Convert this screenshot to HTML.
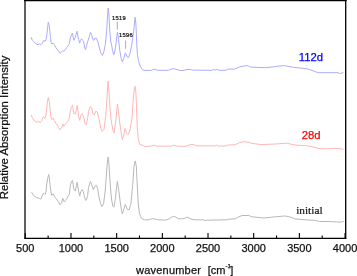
<!DOCTYPE html>
<html><head><meta charset="utf-8"><style>
html,body{margin:0;padding:0;background:#fff;}
body{width:357px;height:276px;overflow:hidden;}
svg{display:block;}
text{font-family:"Liberation Sans",Arial,sans-serif;}
</style></head><body>
<svg width="357" height="276" viewBox="0 0 357 276">
<rect x="0" y="0" width="357" height="276" fill="#fff"/>
<polyline fill="none" stroke="#acacff" stroke-width="1.0" stroke-linejoin="round" points="31.2,37.2 32.3,40.4 34.5,42.6 36.7,44.1 38.1,44.8 39.3,43.8 40.8,44.8 42.5,43.0 43.7,40.4 45.1,41.2 46.1,39.7 46.8,35.4 47.6,27.4 48.3,22.3 49.0,24.5 49.7,30.3 50.5,37.5 51.2,42.6 51.7,43.9 53.2,43.2 54.3,44.6 55.8,47.5 58.0,50.4 60.1,53.3 61.6,51.9 62.8,50.7 63.8,51.2 65.2,49.7 66.7,47.5 68.1,45.8 69.3,43.9 70.3,38.1 71.4,35.2 72.5,33.0 73.2,37.4 73.9,40.3 74.9,38.1 76.1,34.5 77.0,31.3 77.8,35.9 78.7,39.6 79.7,43.2 80.4,40.3 81.6,38.8 82.6,40.3 83.6,41.7 84.8,48.3 85.5,49.7 86.4,46.1 87.9,41.0 89.3,36.7 90.5,32.3 91.5,34.5 93.0,39.6 94.0,40.3 95.1,38.1 96.3,38.1 97.8,41.7 99.5,48.3 100.9,53.3 102.4,55.5 103.8,51.9 105.3,44.6 106.5,33.0 107.4,18.0 108.1,8.0 108.9,14.0 109.7,30.0 110.8,42.0 111.6,45.0 112.5,50.4 113.7,54.8 114.7,51.9 115.7,46.1 116.9,35.9 117.5,32.0 118.6,39.8 119.9,51.2 121.2,58.5 122.3,61.8 124.0,57.7 125.3,52.8 127.2,56.9 128.5,57.5 130.3,52.4 132.1,42.6 133.6,31.7 135.1,17.2 135.9,24.0 136.4,35.0 136.9,47.0 137.6,55.5 138.7,61.5 140.1,66.0 142.3,69.6 144.0,70.4 151.4,70.4 152.8,69.4 155.6,69.4 157.3,70.3 168.3,70.3 170.8,69.3 173.6,68.6 175.8,69.4 178.3,69.8 180.0,70.6 184.2,70.4 185.9,69.6 190.1,69.4 192.6,70.1 211.8,70.3 213.5,69.4 215.2,70.3 216.8,69.1 218.5,70.3 226.1,70.3 227.8,69.1 234.5,69.1 237.0,68.1 239.5,66.9 242.1,66.4 245.4,65.7 247.9,65.7 249.6,66.6 252.1,67.4 255.0,67.2 260.0,67.6 266.8,67.6 273.5,66.8 278.6,66.1 284.5,65.6 288.7,66.5 293.7,67.3 301.2,68.1 307.3,68.9 312.0,70.4 318.1,72.7 338.1,72.7 339.7,73.5 343.5,72.7"/>
<polyline fill="none" stroke="#ffb6b6" stroke-width="1.0" stroke-linejoin="round" points="31.2,114.8 32.3,117.7 33.8,120.2 35.2,121.0 36.4,122.5 37.4,121.3 38.9,121.8 40.3,122.5 41.8,120.6 42.5,117.7 43.7,116.7 44.7,118.4 45.7,117.0 46.6,109.7 47.3,102.5 48.3,97.4 49.4,102.5 50.2,109.7 50.9,117.0 51.7,119.6 53.2,118.2 54.3,120.4 55.8,123.3 58.0,126.2 60.1,129.8 61.6,127.6 62.8,124.0 63.8,126.2 65.2,124.7 66.7,122.5 68.1,121.1 69.3,118.2 70.3,110.9 71.4,107.3 72.5,105.1 73.2,109.5 73.9,113.8 75.4,113.8 76.4,109.5 77.1,105.4 77.8,109.5 78.7,116.7 79.7,120.4 80.7,115.3 81.9,113.8 83.0,115.3 84.1,118.9 85.1,124.0 85.9,125.1 87.4,120.4 88.6,111.2 90.4,106.4 91.9,108.5 93.1,114.0 94.4,114.9 95.9,111.2 97.3,112.1 99.1,119.4 100.9,128.4 102.2,131.2 104.0,129.3 105.8,115.8 106.6,104.0 107.4,91.0 108.1,81.2 108.9,90.0 109.7,104.0 110.8,117.0 111.8,124.0 113.1,131.2 114.0,133.0 115.4,123.9 116.7,112.1 117.5,104.0 118.5,112.1 119.8,123.0 121.2,133.0 122.3,139.6 123.5,136.0 125.0,128.5 126.5,133.0 128.2,134.8 130.2,129.5 132.0,118.0 133.2,100.3 134.3,89.0 135.1,86.3 135.9,92.0 136.6,110.0 137.3,128.0 138.3,139.0 139.6,144.3 142.9,145.5 144.7,146.4 148.1,146.4 151.4,145.9 154.0,145.1 156.5,146.1 171.6,146.1 173.3,145.1 176.7,146.1 185.1,146.4 188.4,145.1 193.5,144.4 196.8,145.9 215.2,145.9 216.5,145.1 218.5,146.1 225.3,146.1 227.8,145.1 235.3,144.7 239.5,142.6 243.7,141.7 247.9,142.1 252.1,143.4 261.2,144.6 275.2,144.0 286.4,143.2 296.2,145.2 304.2,145.5 312.0,146.6 318.1,148.4 325.8,148.9 335.0,148.4 343.5,149.2"/>
<polyline fill="none" stroke="#b8b8b8" stroke-width="1.0" stroke-linejoin="round" points="31.6,192.2 33.1,194.8 34.5,196.2 36.4,197.4 37.9,198.0 39.3,198.4 40.8,199.1 41.8,197.0 42.8,194.1 43.9,193.3 45.1,194.5 46.1,191.2 46.8,183.2 47.6,178.8 48.6,174.5 49.4,178.1 50.0,184.6 50.9,191.2 51.7,195.4 53.2,193.9 54.3,196.1 55.8,198.3 58.0,201.2 60.1,204.8 61.6,202.6 62.8,198.3 64.3,202.0 65.5,200.5 66.7,198.8 68.1,196.1 69.3,194.6 70.3,185.9 71.4,181.6 72.5,180.4 73.2,184.5 73.9,189.6 75.4,191.0 76.4,185.9 77.1,182.3 77.8,185.9 78.7,191.7 79.7,196.1 80.7,191.7 82.2,189.6 83.3,191.7 84.5,196.8 85.5,200.4 86.5,199.7 87.7,195.4 88.5,187.6 90.4,181.5 92.0,185.4 93.3,189.8 94.8,186.5 96.3,185.4 97.6,188.7 99.1,197.4 100.7,203.9 102.0,206.7 103.5,203.9 105.0,193.0 106.4,175.0 107.3,163.0 108.1,157.0 108.9,163.0 109.8,178.0 110.9,193.0 111.7,200.0 112.8,206.1 113.9,207.2 115.4,198.5 116.5,187.6 117.4,181.4 118.7,189.8 120.2,201.7 121.5,210.4 122.3,213.9 124.5,207.1 125.3,204.3 127.2,209.2 129.1,209.8 130.8,204.3 132.7,185.3 133.3,176.7 133.9,167.0 135.2,161.0 136.3,165.9 136.8,176.7 137.5,190.0 138.2,203.0 139.5,213.9 140.8,216.6 141.4,218.4 144.7,219.8 148.9,219.8 151.4,218.8 154.8,218.8 157.3,219.8 165.7,220.1 169.1,218.8 171.6,217.1 173.6,216.4 175.8,217.1 178.3,218.8 182.5,218.8 185.1,218.1 187.1,217.1 189.3,218.1 191.8,219.3 195.1,219.8 203.4,219.8 205.1,220.7 206.8,220.2 226.9,219.8 228.6,219.2 235.3,218.8 238.7,216.8 242.1,215.5 248.8,215.5 252.1,216.8 255.0,217.1 264.0,218.0 275.2,216.8 285.0,216.0 290.0,216.9 295.6,219.0 304.0,219.7 315.2,220.4 319.4,221.5 329.2,221.5 340.0,222.1 343.8,221.6"/>
<line x1="117.3" y1="21.8" x2="117.3" y2="29.6" stroke="#999" stroke-width="0.8"/>
<line x1="125.6" y1="40.6" x2="125.6" y2="48.8" stroke="#999" stroke-width="0.8"/>
<text x="111.9" y="19.8" font-size="5.8" fill="#111" stroke="#111" stroke-width="0.22" letter-spacing="0.3">1519</text>
<text x="119.0" y="36.6" font-size="5.8" fill="#111" stroke="#111" stroke-width="0.22" letter-spacing="0.3">1596</text>
<g stroke="#000" stroke-width="1.1"><line x1="25.30" y1="238.35" x2="25.30" y2="232.95"/><line x1="70.98" y1="238.35" x2="70.98" y2="232.95"/><line x1="116.66" y1="238.35" x2="116.66" y2="232.95"/><line x1="162.34" y1="238.35" x2="162.34" y2="232.95"/><line x1="208.01" y1="238.35" x2="208.01" y2="232.95"/><line x1="253.69" y1="238.35" x2="253.69" y2="232.95"/><line x1="299.37" y1="238.35" x2="299.37" y2="232.95"/><line x1="345.05" y1="238.35" x2="345.05" y2="232.95"/><line x1="48.14" y1="238.35" x2="48.14" y2="235.45"/><line x1="93.82" y1="238.35" x2="93.82" y2="235.45"/><line x1="139.50" y1="238.35" x2="139.50" y2="235.45"/><line x1="185.17" y1="238.35" x2="185.17" y2="235.45"/><line x1="230.85" y1="238.35" x2="230.85" y2="235.45"/><line x1="276.53" y1="238.35" x2="276.53" y2="235.45"/><line x1="322.21" y1="238.35" x2="322.21" y2="235.45"/></g>
<g stroke="#000">
<line x1="24.0" y1="0.3" x2="346.7" y2="0.3" stroke-width="1.7"/>
<line x1="25.0" y1="0" x2="25.0" y2="238.95" stroke-width="1.25"/>
<line x1="345.7" y1="0" x2="345.7" y2="238.95" stroke-width="1.3"/>
<line x1="24.4" y1="238.35" x2="346.3" y2="238.35" stroke-width="1.25"/>
</g>
<g font-size="11" fill="#111" stroke="#111" stroke-width="0.25"><text x="25.30" y="251.9" text-anchor="middle">500</text><text x="70.98" y="251.9" text-anchor="middle">1000</text><text x="116.66" y="251.9" text-anchor="middle">1500</text><text x="162.34" y="251.9" text-anchor="middle">2000</text><text x="208.01" y="251.9" text-anchor="middle">2500</text><text x="253.69" y="251.9" text-anchor="middle">3000</text><text x="299.37" y="251.9" text-anchor="middle">3500</text><text x="345.05" y="251.9" text-anchor="middle">4000</text></g>
<text x="136.0" y="273.7" font-size="11" fill="#111" stroke="#111" stroke-width="0.25" letter-spacing="0.22">wavenumber</text>
<text x="207.8" y="273.7" font-size="11" fill="#111" stroke="#111" stroke-width="0.25">[cm</text>
<text x="225.6" y="267.6" font-size="6" fill="#111" stroke="#111" stroke-width="0.25">-1</text>
<text x="230.2" y="273.7" font-size="11" fill="#111" stroke="#111" stroke-width="0.25">]</text>
<text transform="translate(8.3,199.3) rotate(-90)" font-size="11.4" fill="#111" stroke="#111" stroke-width="0.25">Relative Absorption Intensity</text>
<text x="298.8" y="61.2" font-size="11.3" fill="#0000ff" stroke="#0000ff" stroke-width="0.25">112d</text>
<text x="301.8" y="138.6" font-size="11.3" fill="#ff0000" stroke="#ff0000" stroke-width="0.25">28d</text>
<text x="296.2" y="213.7" font-size="11.3" font-weight="normal" fill="#111" stroke="#111" stroke-width="0.2" style="font-family:'Liberation Serif',serif">initial</text>
</svg>
</body></html>
